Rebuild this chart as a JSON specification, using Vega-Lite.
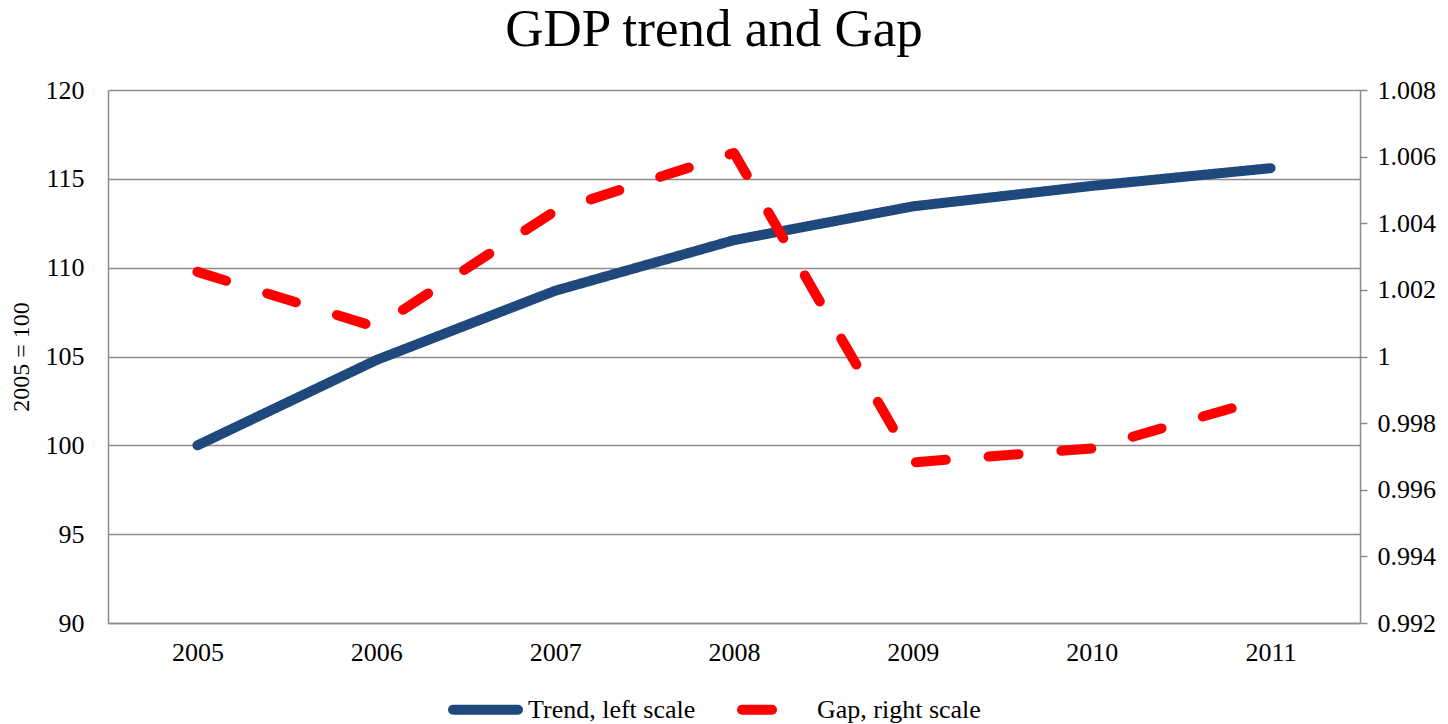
{
  "$schema": "https://vega.github.io/schema/vega-lite/v6.json",
  "autosize": {"type": "none"},
  "width": 1252,
  "height": 533,
  "padding": {"left": 108, "top": 90, "right": 88, "bottom": 101},
  "background": "white",
  "title": {
    "text": "GDP trend and Gap",
    "font": "Liberation Serif",
    "fontSize": 53,
    "fontWeight": "normal",
    "color": "#000000",
    "anchor": "middle",
    "dx": -20,
    "offset": 20
  },
  "config": {
    "view": {"stroke": null},
    "font": "Liberation Serif",
    "axis": {
      "labelFont": "Liberation Serif",
      "titleFont": "Liberation Serif",
      "labelColor": "#000000",
      "titleColor": "#000000",
      "domainColor": "#8c8c8c",
      "domainWidth": 1.5,
      "gridColor": "#8c8c8c",
      "gridWidth": 1.5,
      "tickColor": "#8c8c8c",
      "tickWidth": 1.5
    },
    "legend": {
      "labelFont": "Liberation Serif",
      "labelColor": "#000000"
    }
  },
  "data": {
    "values": [
      {"year": "2005", "series": "Trend, left scale", "value": 100.0},
      {"year": "2006", "series": "Trend, left scale", "value": 104.8},
      {"year": "2007", "series": "Trend, left scale", "value": 108.7},
      {"year": "2008", "series": "Trend, left scale", "value": 111.55},
      {"year": "2009", "series": "Trend, left scale", "value": 113.45},
      {"year": "2010", "series": "Trend, left scale", "value": 114.6},
      {"year": "2011", "series": "Trend, left scale", "value": 115.6},
      {"year": "2005", "series": "Gap, right scale", "value": 1.00254},
      {"year": "2006", "series": "Gap, right scale", "value": 1.00088},
      {"year": "2007", "series": "Gap, right scale", "value": 1.00437},
      {"year": "2008", "series": "Gap, right scale", "value": 1.00611},
      {"year": "2009", "series": "Gap, right scale", "value": 0.99682},
      {"year": "2010", "series": "Gap, right scale", "value": 0.99724},
      {"year": "2011", "series": "Gap, right scale", "value": 0.99878}
    ]
  },
  "encoding": {
    "x": {
      "field": "year",
      "type": "ordinal",
      "scale": {"type": "point", "padding": 0.5},
      "axis": {
        "title": null,
        "labelAngle": 0,
        "labelFont": "Liberation Serif",
        "labelFontSize": 26,
        "labelPadding": 16,
        "ticks": false,
        "grid": false
      }
    },
    "color": {
      "field": "series",
      "type": "nominal",
      "scale": {
        "domain": ["Trend, left scale", "Gap, right scale"],
        "range": ["#1F497D", "#FF0000"]
      },
      "legend": {
        "title": null,
        "orient": "none",
        "direction": "horizontal",
        "legendX": 340,
        "legendY": 582,
        "symbolType": "stroke",
        "symbolSize": 4225,
        "symbolStrokeWidth": 10,
        "labelFont": "Liberation Serif",
        "labelFontSize": 26,
        "labelLimit": 400,
        "labelOffset": 5,
        "columnPadding": 26,
        "padding": 0,
        "encode": {"symbols": {"update": {"strokeCap": {"value": "round"}}}}
      }
    },
    "strokeDash": {
      "field": "series",
      "type": "nominal",
      "scale": {
        "domain": ["Trend, left scale", "Gap, right scale"],
        "range": [[1, 0], [30, 43]]
      },
      "legend": {
        "title": null,
        "orient": "none",
        "direction": "horizontal",
        "legendX": 340,
        "legendY": 582,
        "symbolType": "stroke",
        "symbolSize": 4225,
        "symbolStrokeWidth": 10,
        "labelFont": "Liberation Serif",
        "labelFontSize": 26,
        "labelLimit": 400,
        "labelOffset": 5,
        "columnPadding": 26,
        "padding": 0,
        "encode": {"symbols": {"update": {"strokeCap": {"value": "round"}}}}
      }
    }
  },
  "layer": [
    {
      "transform": [{"filter": "datum.series === 'Trend, left scale'"}],
      "mark": {"type": "line", "strokeWidth": 10, "strokeCap": "round", "strokeJoin": "round"},
      "encoding": {
        "y": {
          "field": "value",
          "type": "quantitative",
          "scale": {"domain": [90, 120], "nice": false, "zero": false},
          "axis": {
            "orient": "left",
            "title": "2005 = 100",
            "titleFont": "Liberation Serif",
            "titleFontSize": 24,
            "titleFontWeight": "normal",
            "titlePadding": 12,
            "values": [90, 95, 100, 105, 110, 115, 120],
            "labelFont": "Liberation Serif",
            "labelFontSize": 26,
            "labelPadding": 24,
            "ticks": false,
            "grid": true
          }
        }
      }
    },
    {
      "transform": [{"filter": "datum.series === 'Gap, right scale'"}],
      "mark": {"type": "line", "strokeWidth": 10, "strokeCap": "round", "strokeJoin": "round"},
      "encoding": {
        "y": {
          "field": "value",
          "type": "quantitative",
          "scale": {"domain": [0.992, 1.008], "nice": false, "zero": false},
          "axis": {
            "orient": "right",
            "title": null,
            "values": [0.992, 0.994, 0.996, 0.998, 1.0, 1.002, 1.004, 1.006, 1.008],
            "labelExpr": "format(datum.value, '.3~f')",
            "labelFont": "Liberation Serif",
            "labelFontSize": 26,
            "labelPadding": 10,
            "ticks": true,
            "tickSize": 7,
            "grid": false
          }
        }
      }
    }
  ],
  "resolve": {"scale": {"y": "independent"}, "axis": {"y": "independent"}}
}
